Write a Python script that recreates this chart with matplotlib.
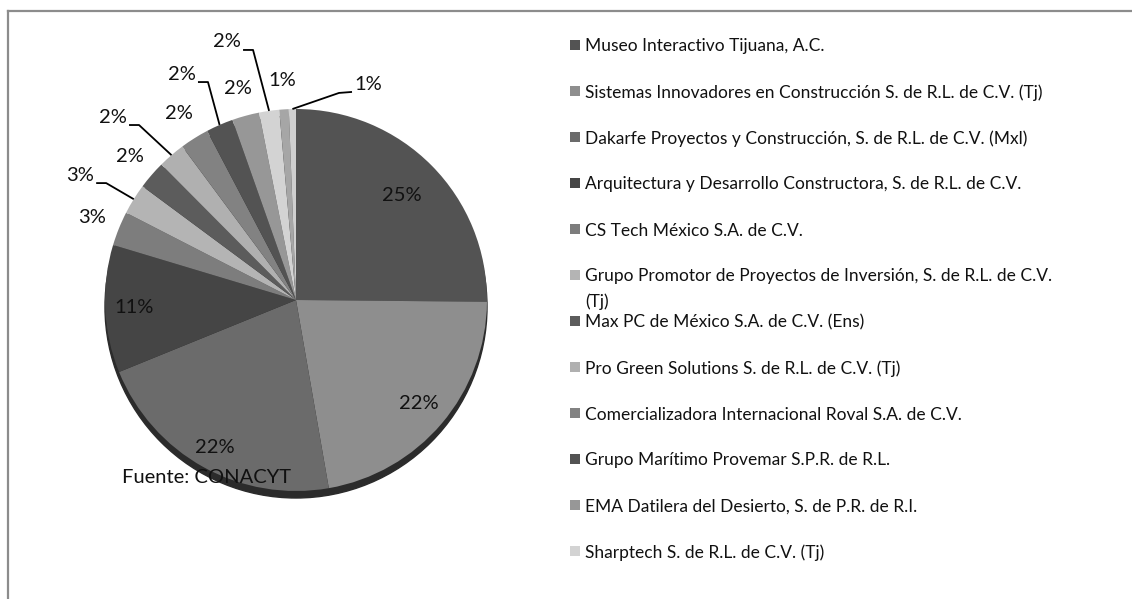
import matplotlib
matplotlib.use('Agg')
import matplotlib.pyplot as plt
from matplotlib.patches import Circle, Rectangle
from matplotlib.lines import Line2D
import numpy as np

plt.rcParams['font.family'] = ['Lato', 'DejaVu Sans']

# empresas (solo 12 aparecen en la leyenda)
empresas = [
    'Museo Interactivo Tijuana, A.C.',
    'Sistemas Innovadores en Construcción S. de R.L. de C.V. (Tj)',
    'Dakarfe Proyectos y Construcción, S. de R.L. de C.V. (Mxl)',
    'Arquitectura y Desarrollo Constructora, S. de R.L. de C.V.',
    'CS Tech México S.A. de C.V.',
    'Grupo Promotor de Proyectos de Inversión, S. de R.L. de C.V.\n(Tj)',
    'Max PC de México S.A. de C.V. (Ens)',
    'Pro Green Solutions S. de R.L. de C.V. (Tj)',
    'Comercializadora Internacional Roval S.A. de C.V.',
    'Grupo Marítimo Provemar S.P.R. de R.L.',
    'EMA Datilera del Desierto, S. de P.R. de R.I.',
    'Sharptech S. de R.L. de C.V. (Tj)',
]
valores = [25.15, 22.1, 21.6, 10.8, 2.9, 2.6, 2.4, 2.3, 2.45, 2.3, 2.3, 1.7, 0.8, 0.6]
colores = ['#535353', '#8e8e8e', '#6b6b6b', '#454545', '#7d7d7d', '#b4b4b4', '#5c5c5c',
           '#b0b0b0', '#828282', '#535353', '#979797', '#d3d3d3', '#a6a6a6', '#cfcfcf']

# posiciones de etiquetas (en unidades de radio)
r_grandes = [0.78, 0.84, 0.88, 0.85]
con_linea = {5: (-1.13, 0.654), 7: (-0.958, 0.958), 9: (-0.597, 1.183),
             11: (-0.361, 1.351), 13: (0.377, 1.126)}

W, H = 1132, 599
fig = plt.figure(figsize=(W / 100, H / 100), dpi=100)
R = 191.0
cx, cy = 296, 300
ax = fig.add_axes([0, 0, 560 / W, 1])

ax.add_patch(Circle((0, -7 / R), 1, color='#2b2b2b', zorder=0))
wedges, _ = ax.pie(valores, colors=colores, startangle=90, counterclock=False,
                   wedgeprops=dict(linewidth=0))
for w in wedges:
    w.set_zorder(1)
ax.set_aspect('auto')
ax.set_xlim(-cx / R, (560 - cx) / R)
ax.set_ylim(-(H - cy) / R, cy / R)
ax.axis('off')

total = sum(valores)
fs_lab = 14.5
for i, (w, v) in enumerate(zip(wedges, valores)):
    txt = f'{v / total * 100:.0f}%'
    ang = np.deg2rad((w.theta1 + w.theta2) / 2)
    if i < 4:
        r = r_grandes[i]
        ax.text(r * np.cos(ang), r * np.sin(ang), txt, ha='center', va='center',
                fontsize=fs_lab, color='#111111', zorder=5)
    elif i in con_linea:
        tx, ty = con_linea[i]
        ax.text(tx, ty, txt, ha='center', va='center', fontsize=fs_lab,
                color='#111111', zorder=5)
        rim = (np.cos(ang), np.sin(ang))
        if tx < 0:
            p0 = (tx + 16 / R, ty - 8 / R)
            p1 = (p0[0] + 10 / R, p0[1])
        else:
            p0 = (tx - 16 / R, ty - 7 / R)
            p1 = (p0[0] - 13 / R, p0[1] - 1 / R)
        ax.plot([p0[0], p1[0], rim[0]], [p0[1], p1[1], rim[1]], color='black',
                lw=1.3, zorder=4, solid_capstyle='butt')
    else:
        r = 1.15
        ax.text(r * np.cos(ang), r * np.sin(ang), txt, ha='center', va='center',
                fontsize=fs_lab, color='#111111', zorder=5)

ax.text(-0.466, -0.927, 'Fuente: CONACYT', ha='center', va='center',
        fontsize=fs_lab, color='#111111', zorder=6)

# leyenda
for i, nombre in enumerate(empresas):
    y = 45 + 46 * i
    fig.add_artist(Rectangle((570 / W, 1 - (y + 5) / H), 10 / W, 10 / H,
                             transform=fig.transFigure,
                             color=wedges[i].get_facecolor(), lw=0))
    for j, linea in enumerate(nombre.split('\n')):
        fig.text(585 / W, 1 - (y + 25 * j) / H, linea, ha='left',
                 va='center_baseline', fontsize=12.5, color='#111111')

# marco
fig.add_artist(Line2D([8 / W, 1], [1 - 10.5 / H, 1 - 10.5 / H], transform=fig.transFigure,
                      color='#8c8c8c', lw=1.6))
fig.add_artist(Line2D([8 / W, 8 / W], [0, 1 - 10.5 / H], transform=fig.transFigure,
                      color='#8c8c8c', lw=1.6))

fig.savefig('out.png', dpi=100)
